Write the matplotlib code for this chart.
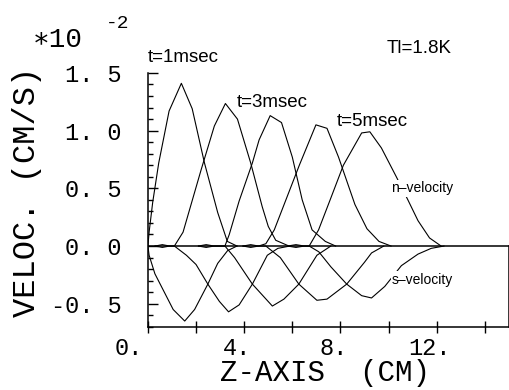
import matplotlib
matplotlib.use("Agg")
import matplotlib.pyplot as plt
import matplotlib.transforms as mtransforms

MONO = "Liberation Mono"
SANS = "Liberation Sans"

# normal-fluid velocity pulses (z in cm, velocity in 1e-2 cm/s)
n1_z = [0.0, 0.05, 0.2, 0.45, 0.88, 1.39, 1.84, 2.35, 2.9, 3.3, 3.7]
n1_v = [0.0, 0.12, 0.38, 0.72, 1.17, 1.41, 1.19, 0.72, 0.29, 0.04, 0.0]
n2_z = [0.3, 0.6, 0.9, 1.1, 1.46, 2.21, 2.76, 3.22, 3.72, 4.27, 4.75, 5.0, 5.31, 5.86]
n2_v = [0.0, -0.012, 0.0, 0.0, 0.12, 0.66, 1.04, 1.235, 1.10, 0.72, 0.34, 0.17, 0.05, 0.0]
n3_z = [2.1, 2.42, 2.75, 3.2, 3.38, 3.79, 4.34, 4.62, 5.08, 5.55, 6.0, 6.41, 6.82, 7.37, 7.8]
n3_v = [0.0, -0.012, 0.0, 0.0, 0.1, 0.39, 0.72, 0.92, 1.13, 1.07, 0.77, 0.40, 0.14, 0.04, 0.0]
n4_z = [3.95, 4.27, 4.6, 4.9, 5.25, 6.29, 6.98, 7.44, 7.92, 8.6, 9.1, 9.6, 10.1]
n4_v = [0.0, -0.012, 0.0, 0.02, 0.14, 0.70, 1.05, 1.02, 0.77, 0.36, 0.15, 0.04, 0.0]
n5_z = [5.8, 6.15, 6.5, 6.7, 7.09, 7.57, 8.12, 8.88, 9.22, 9.7, 10.32, 10.8, 11.22, 11.7, 12.18]
n5_v = [0.0, -0.012, 0.0, 0.0, 0.14, 0.40, 0.70, 0.98, 0.99, 0.85, 0.60, 0.40, 0.22, 0.07, 0.0]

# superfluid velocity pulses
s1_z = [0.0, 0.05, 0.29, 1.05, 1.53, 1.94, 2.49, 2.9, 3.31, 3.7]
s1_v = [0.0, -0.08, -0.24, -0.55, -0.65, -0.55, -0.33, -0.15, -0.04, 0.0]
s2_z = [0.3, 0.6, 0.9, 1.1, 1.6, 2.0, 2.49, 2.97, 3.35, 3.79, 4.34, 4.96, 5.4, 5.9]
s2_v = [0.0, 0.012, 0.0, 0.0, -0.08, -0.16, -0.33, -0.48, -0.57, -0.51, -0.33, -0.08, -0.02, 0.0]
s3_z = [2.1, 2.42, 2.75, 3.2, 3.6, 4.34, 5.17, 5.65, 6.27, 7.02, 7.6]
s3_v = [0.0, 0.012, 0.0, 0.0, -0.1, -0.33, -0.52, -0.46, -0.33, -0.08, 0.0]
s4_z = [3.95, 4.27, 4.6, 4.9, 5.5, 6.27, 7.02, 7.44, 8.26, 9.0, 9.29, 9.8]
s4_v = [0.0, 0.012, 0.0, 0.0, -0.1, -0.33, -0.47, -0.46, -0.33, -0.14, -0.06, 0.0]
s5_z = [5.8, 6.15, 6.5, 6.7, 7.1, 7.6, 8.26, 8.88, 9.29, 9.84, 10.53, 11.22, 11.77, 12.3]
s5_v = [0.0, 0.012, 0.0, 0.0, -0.05, -0.18, -0.33, -0.43, -0.45, -0.35, -0.17, -0.07, -0.02, 0.0]

XTICKS = [0, 4, 8, 12]
XTICK_LABELS = ["0.", "4.", "8.", "12."]
XTICKS_MINOR = [2, 6, 10, 14]
YTICKS = [-0.5, 0.0, 0.5, 1.0, 1.5]
YTICK_LABELS = ["-0. 5", "0. 0", "0. 5", "1. 0", "1. 5"]
YTICKS_MINOR = [-0.7, -0.6, -0.4, -0.3, -0.2, -0.1, 0.1, 0.2, 0.3, 0.4,
                0.6, 0.7, 0.8, 0.9, 1.1, 1.2, 1.3, 1.4]

fig = plt.figure(figsize=(5.1, 3.9), dpi=100)
ax = fig.add_axes([0.290, 0.162, 0.708, 0.651])

pulses = [(n1_z, n1_v), (n2_z, n2_v), (n3_z, n3_v), (n4_z, n4_v), (n5_z, n5_v),
          (s1_z, s1_v), (s2_z, s2_v), (s3_z, s3_v), (s4_z, s4_v), (s5_z, s5_v)]
for z, v in pulses:
    ax.plot(z, v, color="black", lw=0.8)

ax.axhline(0, color="black", lw=1.1)

ax.set_xlim(0, 15)
ax.set_ylim(-0.7, 1.5)

ax.spines["top"].set_visible(False)
ax.spines["right"].set_bounds(-0.7, 0)
for sp in ["left", "bottom", "right"]:
    ax.spines[sp].set_linewidth(1.1)

ax.set_xticks(XTICKS)
ax.set_xticklabels(XTICK_LABELS, fontfamily=MONO, fontsize=17)
ax.set_xticks(XTICKS_MINOR, minor=True)
ax.tick_params(axis="x", which="both", direction="inout", length=9, width=1, pad=3)

ax.set_yticks(YTICKS)
ax.set_yticklabels(YTICK_LABELS, fontfamily=MONO, fontsize=17)
ax.set_yticks(YTICKS_MINOR, minor=True)
ax.tick_params(axis="y", which="major", direction="in", length=7.5, width=1, pad=19)
ax.tick_params(axis="y", which="minor", direction="in", length=3.5, width=1)

# shift x labels so the decimal point sits near the tick
for i, lab in enumerate(ax.get_xticklabels()):
    dx = -19 if i == 0 else -7
    lab.set_transform(lab.get_transform() +
                      mtransforms.ScaledTranslation(dx / 100, 0, fig.dpi_scale_trans))

fig.text(27 / 510, 1 - 192 / 390, "VELOC. (CM/S)", rotation=90, ha="center",
         va="center", fontfamily=MONO, fontsize=23)
fig.text(325 / 510, 1 - 373 / 390, "Z-AXIS  (CM)", ha="center", va="center",
         fontfamily=MONO, fontsize=21)
fig.text(33 / 510, 1 - 40 / 390, "\u221710", ha="left", va="center",
         fontfamily=[MONO, "DejaVu Sans Mono"], fontsize=20)
fig.text(106 / 510, 1 - 23 / 390, "-2", ha="left", va="center",
         fontfamily=MONO, fontsize=14)

ax.text(0.0, 1.63, "t=1msec", ha="left", va="center", fontfamily=SANS, fontsize=13.5)
ax.text(3.68, 1.24, "t=3msec", ha="left", va="center", fontfamily=SANS, fontsize=13.5)
ax.text(7.86, 1.08, "t=5msec", ha="left", va="center", fontfamily=SANS, fontsize=13.5)
ax.text(9.93, 1.71, "Tl=1.8K", ha="left", va="center", fontfamily=SANS, fontsize=13.5)
ax.text(10.1, 0.50, "n\u2013velocity", ha="left", va="center", fontfamily=SANS,
        fontsize=10, bbox=dict(facecolor="white", edgecolor="none", pad=1))
ax.text(10.14, -0.29, "s\u2013velocity", ha="left", va="center", fontfamily=SANS,
        fontsize=10, bbox=dict(facecolor="white", edgecolor="none", pad=1))

fig.savefig("out.png", dpi=100)
